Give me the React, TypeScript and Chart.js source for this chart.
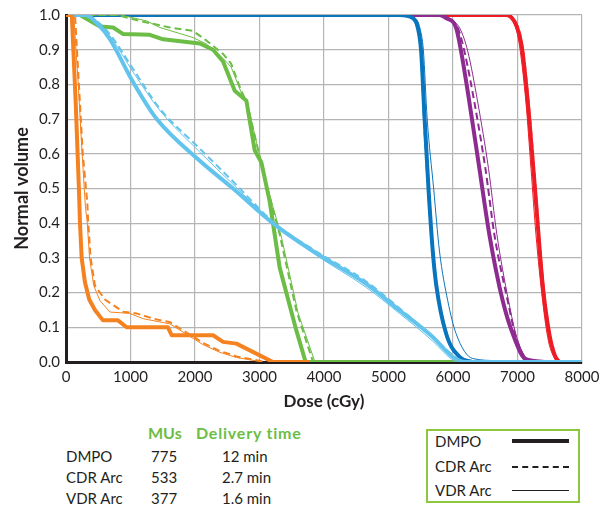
import React, { useEffect, useRef } from "react";
import { Chart, registerables } from "chart.js";

Chart.register(...registerables);

// ---- data: [dose (cGy), normal volume] ----
const orangeDMPO = [[0, 1], [90, 1], [150, 0.75], [200, 0.5], [217, 0.4], [243, 0.3], [294, 0.23], [360, 0.18], [449, 0.15], [573, 0.12], [805, 0.12], [940, 0.1], [1580, 0.1], [1640, 0.077], [2280, 0.077], [2435, 0.058], [2642, 0.053], [3209, 0], [3777, 0]];
const orangeCDR = [[0, 1], [140, 1], [200, 0.8], [260, 0.6], [330, 0.46], [345, 0.4], [382, 0.3], [449, 0.22], [604, 0.18], [885, 0.145], [1094, 0.14], [1350, 0.125], [1610, 0.115], [1868, 0.085], [2125, 0.055], [2384, 0.032], [2642, 0.016], [3100, 0]];
const orangeVDR = [[0, 1], [120, 1], [190, 0.8], [250, 0.6], [300, 0.45], [330, 0.4], [365, 0.3], [430, 0.22], [526, 0.177], [681, 0.144], [990, 0.14], [1190, 0.125], [1610, 0.11], [1868, 0.08], [2125, 0.05], [2384, 0.028], [2642, 0.013], [3050, 0]];

const greenDMPO = [[0, 1], [217, 1], [526, 0.967], [732, 0.964], [887, 0.945], [1300, 0.943], [1506, 0.93], [2074, 0.918], [2280, 0.9], [2435, 0.866], [2616, 0.782], [2797, 0.753], [2926, 0.61], [3029, 0.575], [3158, 0.463], [3313, 0.272], [3571, 0.091], [3715, 0], [6150, 0]];
const greenCDR = [[0, 1], [785, 1], [1145, 0.983], [1610, 0.964], [1970, 0.954], [2180, 0.926], [2435, 0.888], [2560, 0.86], [2720, 0.78], [2800, 0.75], [2950, 0.634], [3107, 0.51], [3313, 0.368], [3571, 0.149], [3830, 0]];
const greenVDR = [[0, 1], [850, 1], [1250, 0.983], [1455, 0.964], [1970, 0.935], [2180, 0.916], [2435, 0.875], [2560, 0.85], [2720, 0.775], [2820, 0.74], [2970, 0.62], [3130, 0.5], [3340, 0.36], [3600, 0.14], [3860, 0]];

const lightBlueDMPO = [[0, 1], [294, 1], [526, 0.967], [681, 0.93], [1042, 0.806], [1404, 0.701], [2074, 0.58], [2590, 0.5], [3235, 0.396], [3824, 0.32], [4654, 0.225], [5170, 0.149], [5686, 0.072], [5996, 0.015], [6203, 0], [8000, 0]];
const lightBlueCDR = [[0, 1], [294, 1], [526, 0.975], [700, 0.94], [1042, 0.844], [1455, 0.73], [2074, 0.615], [2590, 0.52], [3235, 0.4], [3824, 0.325], [4654, 0.232], [5170, 0.155], [5686, 0.072], [5996, 0.02], [6150, 0]];
const lightBlueVDR = [[0, 1], [294, 1], [526, 0.972], [700, 0.935], [1042, 0.835], [1455, 0.725], [2074, 0.605], [2590, 0.512], [3235, 0.398], [3824, 0.315], [4654, 0.215], [5170, 0.14], [5686, 0.06], [5950, 0.012], [6047, 0]];

const blueDMPO = [[0, 1], [5170, 1], [5377, 0.991], [5455, 0.963], [5506, 0.896], [5560, 0.7], [5620, 0.5], [5686, 0.32], [5738, 0.225], [5893, 0.082], [6099, 0.015], [6300, 0]];
const blueCDR = [[0, 1], [5170, 1], [5370, 0.991], [5445, 0.963], [5500, 0.896], [5550, 0.7], [5612, 0.5], [5680, 0.32], [5735, 0.225], [5900, 0.075], [6120, 0.012], [6320, 0]];
const blueVDR = [[0, 1], [5200, 1], [5420, 0.99], [5490, 0.96], [5540, 0.9], [5600, 0.7], [5700, 0.5], [5790, 0.32], [5918, 0.177], [6047, 0.082], [6306, 0.01], [6690, 0.004]];

const purpleDMPO = [[0, 1], [5790, 1], [5893, 0.991], [6048, 0.963], [6125, 0.896], [6254, 0.749], [6409, 0.558], [6563, 0.368], [6770, 0.177], [6925, 0.082], [7130, 0.008], [7492, 0]];
const purpleCDR = [[0, 1], [5820, 1], [5930, 0.99], [6080, 0.96], [6176, 0.896], [6331, 0.749], [6502, 0.558], [6641, 0.368], [6847, 0.177], [6980, 0.07], [7150, 0.008], [7400, 0]];
const purpleVDR = [[0, 1], [5840, 1], [5950, 0.99], [6110, 0.96], [6228, 0.896], [6383, 0.749], [6550, 0.558], [6680, 0.368], [6860, 0.177], [6990, 0.07], [7160, 0.008], [7350, 0]];

const redDMPO = [[0, 1], [6822, 1], [6950, 0.982], [7028, 0.944], [7080, 0.891], [7183, 0.7], [7286, 0.463], [7389, 0.225], [7492, 0.082], [7580, 0.018], [7650, 0]];
const redCDR = [[0, 1], [6840, 1], [6965, 0.982], [7040, 0.944], [7092, 0.89], [7195, 0.7], [7296, 0.463], [7400, 0.225], [7500, 0.08], [7595, 0.015], [7670, 0]];
const redVDR = [[0, 1], [6810, 1], [6930, 0.982], [7000, 0.944], [7040, 0.9], [7131, 0.749], [7209, 0.558], [7286, 0.368], [7389, 0.177], [7480, 0.06], [7600, 0]];

const xTicks = [0, 1000, 2000, 3000, 4000, 5000, 6000, 7000, 8000];
const yTicks = [0, 0.1, 0.2, 0.3, 0.4, 0.5, 0.6, 0.7, 0.8, 0.9, 1.0];

const tableHeader = ["MUs", "Delivery time"];
const planNames = ["DMPO", "CDR Arc", "VDR Arc"];
const planMUs = ["775", "533", "377"];
const planTimes = ["12 min", "2.7 min", "1.6 min"];

const COLORS = {
  orange: "#f58220",
  green: "#6cbd45",
  lightBlue: "#62c3ec",
  blue: "#0a75bf",
  purple: "#8e2b91",
  red: "#ee1d25",
};

const FONT = "Lato, 'Open Sans', sans-serif";
const TEXT = "#231f20";

type Pt = number[];

function ds(data: Pt[], color: string, kind: "thick" | "dash" | "thin", order: number, smooth: boolean) {
  const base: any = {
    data: data.map(([x, y]) => ({ x, y })),
    borderColor: color,
    backgroundColor: color,
    fill: false,
    pointRadius: 0,
    order,
    borderJoinStyle: "round",
    borderCapStyle: "butt",
    tension: 0,
  };
  if (smooth) base.cubicInterpolationMode = "monotone";
  if (kind === "thick") base.borderWidth = 4;
  if (kind === "dash") { base.borderWidth = 2; base.borderDash = [7, 4]; }
  if (kind === "thin") base.borderWidth = 1;
  return base;
}

export default function App() {
  const ref = useRef<HTMLCanvasElement | null>(null);

  useEffect(() => {
    if (!ref.current) return;
    const groups: [Pt[][], string, boolean][] = [
      [[orangeDMPO, orangeCDR, orangeVDR], COLORS.orange, false],
      [[lightBlueDMPO, lightBlueCDR, lightBlueVDR], COLORS.lightBlue, true],
      [[greenDMPO, greenCDR, greenVDR], COLORS.green, false],
      [[blueDMPO, blueCDR, blueVDR], COLORS.blue, true],
      [[purpleDMPO, purpleCDR, purpleVDR], COLORS.purple, true],
      [[redDMPO, redCDR, redVDR], COLORS.red, true],
    ];
    const datasets: any[] = [];
    groups.forEach(([sets, color, smooth], gi) => {
      const kinds: ("thick" | "dash" | "thin")[] = ["thick", "dash", "thin"];
      sets.forEach((d, k) => {
        datasets.push(ds(d, color, kinds[k], gi * 3 + k, smooth));
      });
    });

    const chart = new Chart(ref.current, {
      type: "line",
      data: { datasets },
      options: {
        animation: false,
        responsive: false,
        maintainAspectRatio: false,
        events: [],
        layout: { padding: { left: 0, right: 33, top: 12, bottom: 0 } },
        plugins: { legend: { display: false }, tooltip: { enabled: false } },
        scales: {
          x: {
            type: "linear",
            min: 0,
            max: 8000,
            afterBuildTicks: (s: any) => { s.ticks = xTicks.map((v) => ({ value: v })); },
            ticks: { color: TEXT, font: { family: FONT, size: 15 }, padding: 6, maxRotation: 0, autoSkip: false, callback: (v: any) => String(v) },
            grid: { color: "#b5b5b5", lineWidth: 1.2, drawTicks: false },
            border: { color: TEXT, width: 3 },
            title: { display: true, text: "Dose (cGy)", color: TEXT, font: { family: FONT, size: 17, weight: "bold" }, padding: { top: 0, bottom: 3 } },
            afterFit: (s: any) => { s.height = 53; },
          },
          y: {
            type: "linear",
            min: 0,
            max: 1,
            afterBuildTicks: (s: any) => { s.ticks = yTicks.map((v) => ({ value: v })); },
            ticks: { color: TEXT, font: { family: FONT, size: 15 }, padding: 6, callback: (v: any) => Number(v).toFixed(1) },
            grid: { color: "#b5b5b5", lineWidth: 1.2, drawTicks: false },
            border: { color: TEXT, width: 3 },
            title: { display: true, text: "Normal volume", color: TEXT, font: { family: FONT, size: 18, weight: "bold" }, padding: { top: 11, bottom: 0 } },
            afterFit: (s: any) => { s.width = 66; },
          },
        },
      },
    });
    return () => chart.destroy();
  }, []);

  const txt: React.CSSProperties = { position: "absolute", fontFamily: FONT, fontSize: 15, lineHeight: "18px", color: TEXT, whiteSpace: "nowrap" };
  const head: React.CSSProperties = { ...txt, color: "#6cbd45", fontWeight: "bold", fontSize: 16 };
  const rowTops = [447, 468, 489];
  const legTops = [432, 457, 481];

  return (
    <div style={{ position: "absolute", left: 0, top: 0, width: 615, height: 505, background: "#fff" }}>
      <canvas ref={ref} width={615} height={415} style={{ position: "absolute", left: 0, top: 0, width: 615, height: 415 }} />
      <div style={{ ...head, left: 148, top: 424 }}>{tableHeader[0]}</div>
      <div style={{ ...head, left: 196, top: 424, letterSpacing: 0.8 }}>{tableHeader[1]}</div>
      {planNames.map((n, i) => (
        <React.Fragment key={n}>
          <div style={{ ...txt, left: 66, top: rowTops[i] }}>{n}</div>
          <div style={{ ...txt, left: 151, top: rowTops[i] }}>{planMUs[i]}</div>
          <div style={{ ...txt, left: 222, top: rowTops[i] }}>{planTimes[i]}</div>
        </React.Fragment>
      ))}
      <div style={{ position: "absolute", left: 426, top: 429, width: 150, height: 70, border: "2px solid #8dc63f" }} />
      {planNames.map((n, i) => (
        <div key={"l" + n} style={{ ...txt, left: 435, top: legTops[i] }}>{n}</div>
      ))}
      <div style={{ position: "absolute", left: 512, top: 439, width: 57, height: 4, background: TEXT }} />
      <div style={{ position: "absolute", left: 512, top: 466, width: 57, height: 0, borderTop: "2px dashed " + TEXT }} />
      <div style={{ position: "absolute", left: 512, top: 490, width: 57, height: 1, background: TEXT }} />
    </div>
  );
}
